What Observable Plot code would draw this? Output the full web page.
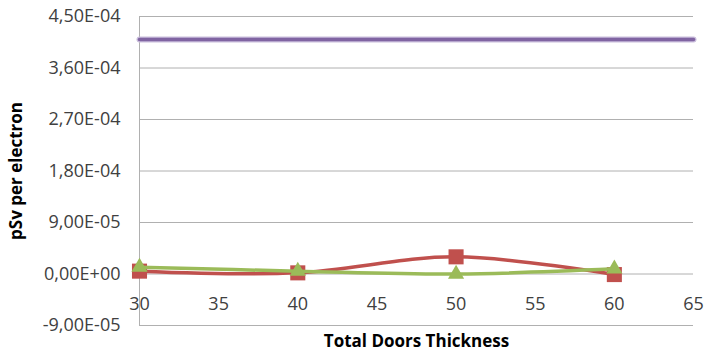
<!DOCTYPE html>
<html><head><meta charset="utf-8">
<script src="https://cdn.jsdelivr.net/npm/d3@7"></script>
<script src="https://cdn.jsdelivr.net/npm/@observablehq/plot@0.6"></script>
<style>body{margin:0;background:#fff}</style>
</head><body><div id="chart"></div>
<script>
const thickness = [30, 40, 50, 60];
const seriesRed = [5e-6, 2e-6, 3.0e-5, -1e-6];
const seriesGreen = [1.2e-5, 5e-6, 0, 9e-6];
const purpleX = [30, 65];
const purpleY = [4.1e-4, 4.1e-4];
const yTicks = [-9e-5, 0, 9e-5, 1.8e-4, 2.7e-4, 3.6e-4, 4.5e-4];
const xTicks = [30, 35, 40, 45, 50, 55, 60, 65];

const fmt = d => {
  const s = d.toExponential(2);
  let [m, e] = s.split("e");
  const sign = e[0] === "-" ? "-" : "+";
  e = e.replace(/^[+-]/, "").padStart(2, "0");
  return m.replace(".", ",") + "E" + sign + e;
};

const red = thickness.map((x, i) => ({x, y: seriesRed[i]}));
const green = thickness.map((x, i) => ({x, y: seriesGreen[i]}));
const purple = purpleX.map((x, i) => ({x, y: purpleY[i]}));

const font = "'Open Sans', sans-serif";
const chart = Plot.plot({
  width: 709, height: 354,
  marginLeft: 139, marginRight: 16, marginTop: 16, marginBottom: 29,
  style: {fontFamily: font, fontSize: "17px", color: "#404040", background: "#fff"},
  x: {domain: [30, 65], axis: null},
  y: {domain: [-9e-5, 4.5e-4], axis: null},
  marks: [
    Plot.ruleY(yTicks, {stroke: "#b0b0b0", strokeWidth: 1}),
    Plot.ruleX([30], {y1: -9e-5, y2: 4.5e-4, stroke: "#b0b0b0", strokeWidth: 1}),
    Plot.text(yTicks, {x: 30, y: d => d, dx: -19, text: fmt, textAnchor: "end", fontSize: 18, fill: "#404040", fontFamily: font}),
    Plot.text(xTicks, {x: d => d, y: 0, dy: 30, text: d => String(d), fontSize: 18, fill: "#404040", fontFamily: font}),
    Plot.line(purple, {x: "x", y: "y", stroke: "#c9bddb", strokeWidth: 6}),
    Plot.line(purple, {x: "x", y: "y", stroke: "#8064A2", strokeWidth: 3.5}),
    Plot.line(red, {x: "x", y: "y", stroke: "#C0504D", strokeWidth: 3.5, curve: "catmull-rom"}),
    Plot.dot(red, {x: "x", y: "y", symbol: "square", r: 8.5, fill: "#C0504D", stroke: "none"}),
    Plot.line(green, {x: "x", y: "y", stroke: "#9BBB59", strokeWidth: 3.5, curve: "catmull-rom"}),
    Plot.dot(green, {x: "x", y: "y", symbol: "triangle", r: 6, fill: "#9BBB59", stroke: "none"}),
    Plot.text(["pSv per electron"], {frameAnchor: "left", textAnchor: "middle", dx: -123, rotate: -90, fontWeight: "bold", fontSize: 17, fill: "#000", fontFamily: font}),
    Plot.text(["Total Doors Thickness"], {frameAnchor: "bottom", dy: 21, fontWeight: "bold", fontSize: 17, fill: "#000", fontFamily: font})
  ]
});
document.getElementById("chart").append(chart);
</script>
</body></html>
